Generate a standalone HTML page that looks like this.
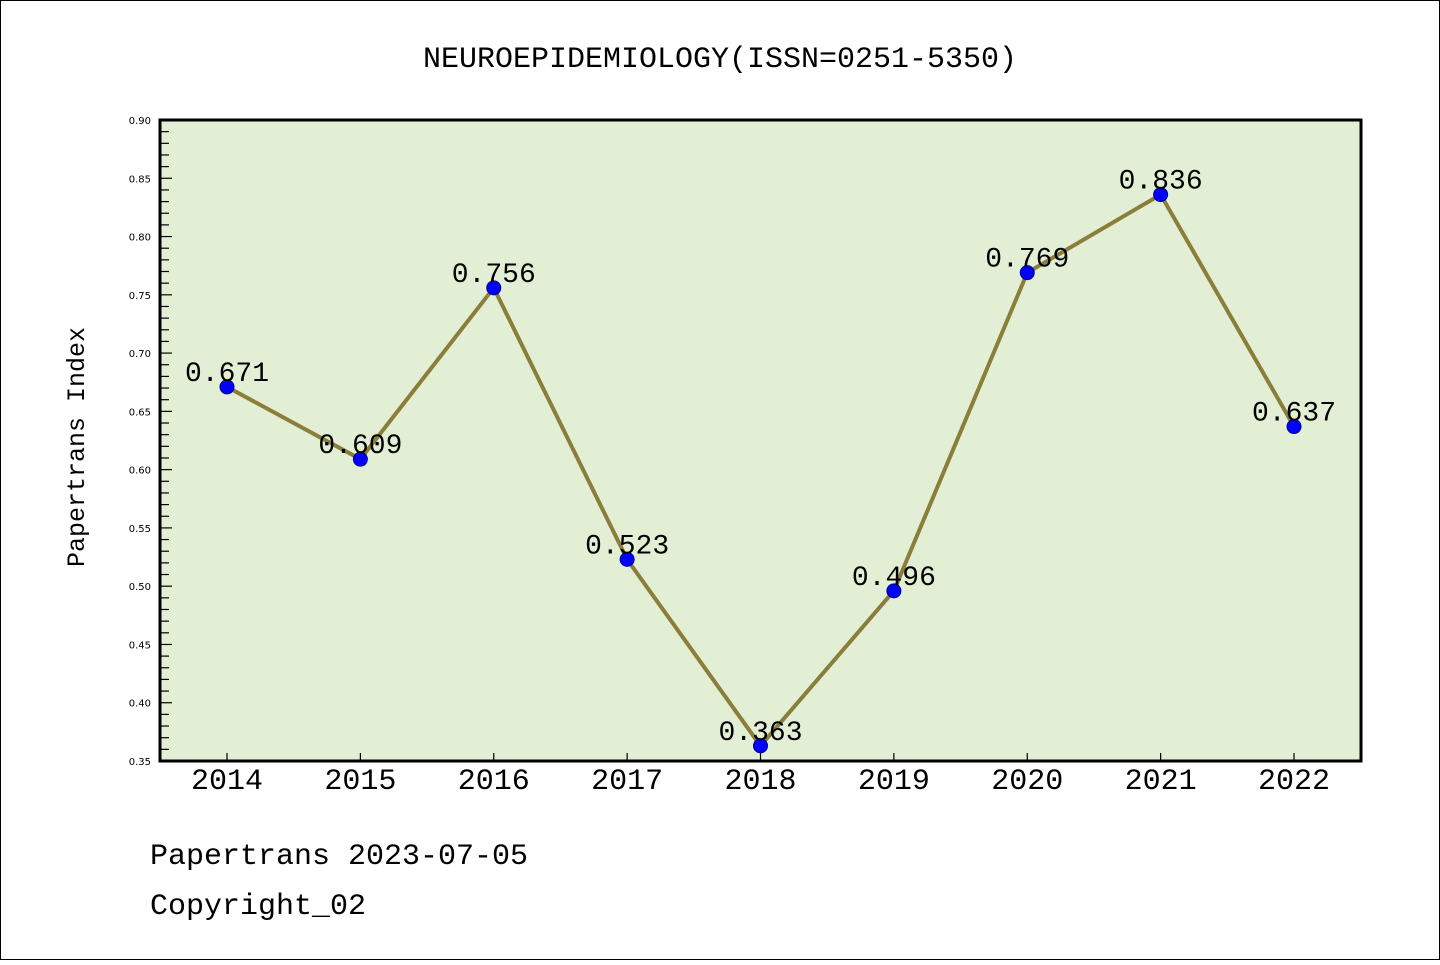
<!DOCTYPE html>
<html><head><meta charset="utf-8"><style>
body{margin:0;background:#fff}
svg text{font-family:"Liberation Mono","WenQuanYi Zen Hei",monospace}
svg text.sm{font-family:"DejaVu Sans","Liberation Sans",sans-serif}
</style></head><body>
<svg width="1440" height="960" xmlns="http://www.w3.org/2000/svg">
<rect x="0.5" y="0.5" width="1439" height="959" fill="#fff" stroke="#000"/>
<text x="720" y="67" font-size="30" text-anchor="middle">NEUROEPIDEMIOLOGY(ISSN=0251-5350)</text>
<rect x="160" y="120" width="1201" height="641" fill="#e2efd5"/>
<g id="yaxis"></g>
<g id="xaxis"></g>
<text transform="translate(84,447) rotate(-90)" font-size="25" text-anchor="middle">Papertrans Index</text>
<g id="series"></g>
<rect x="160" y="120" width="1201" height="641" fill="none" stroke="#000" stroke-width="3"/>
<text x="150" y="864" font-size="30">Papertrans 2023-07-05</text>
<text x="150" y="914" font-size="30">Copyright_02</text>
</svg>
<script>
const years=["2014","2015","2016","2017","2018","2019","2020","2021","2022"];
const values=[0.671,0.609,0.756,0.523,0.363,0.496,0.769,0.836,0.637];
const yTicks=["0.35","0.40","0.45","0.50","0.55","0.60","0.65","0.70","0.75","0.80","0.85","0.90"];
const NS="http://www.w3.org/2000/svg";
const yMin=0.35,yMax=0.90,plotTop=120,plotBot=761;
function yS(v){return plotBot-(v-yMin)/(yMax-yMin)*(plotBot-plotTop);}
function xS(i){return 227+i*(1294-227)/(years.length-1);}
function mk(t,a,p){const e=document.createElementNS(NS,t);for(const k in a)e.setAttribute(k,a[k]);p.appendChild(e);return e;}
const ya=document.getElementById('yaxis');
for(let k=0;k<=55;k++){const v=yMin+k*0.01;const maj=k%5===0;
 const t=mk('line',{x1:160,x2:maj?172:169,y1:yS(v),y2:yS(v),stroke:'#000','stroke-width':1.2},ya);
 
 }
yTicks.forEach(s=>{const t=mk('text',{x:151,y:yS(parseFloat(s))+4,'font-size':10,'text-anchor':'end','class':'sm'},ya);t.textContent=s;
 
 });
const xa=document.getElementById('xaxis');
years.forEach((s,i)=>{const l=mk('line',{x1:xS(i),x2:xS(i),y1:plotBot,y2:plotBot-8,stroke:'#000','stroke-width':1.2},xa);
 
 
 const t=mk('text',{x:xS(i),y:789,'font-size':30,'text-anchor':'middle'},xa);t.textContent=s;
 
 });
const sg=document.getElementById('series');
const pl=mk('polyline',{points:values.map((v,i)=>xS(i)+','+yS(v)).join(' '),fill:'none',stroke:'#8b7d3a','stroke-width':4},sg);


values.forEach((v,i)=>{const c=mk('circle',{cx:xS(i),cy:yS(v),r:7,fill:'#0000ff',stroke:'#00008b','stroke-width':1},sg);
 
 
 const t=mk('text',{x:xS(i),y:yS(v)-6,'font-size':28,'text-anchor':'middle'},sg);t.textContent=v.toFixed(3);
 
 });
</script>
</body></html>
